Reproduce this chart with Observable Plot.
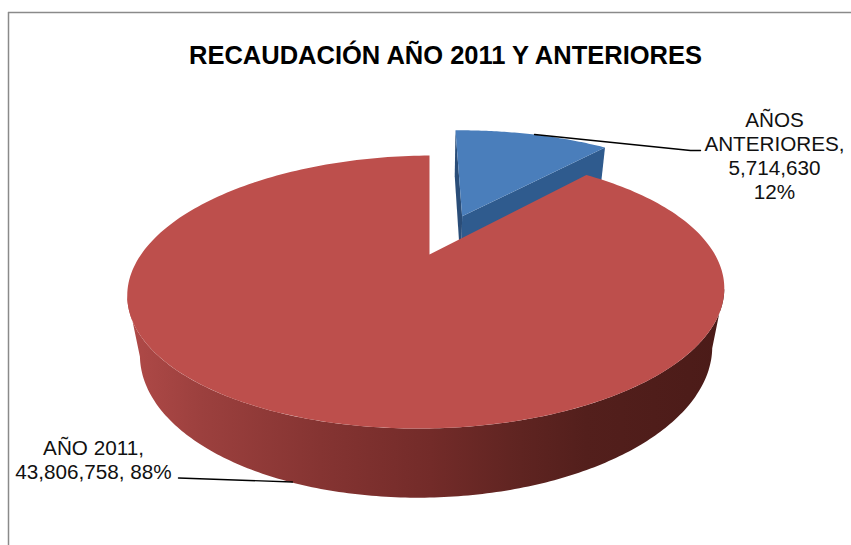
<!DOCTYPE html>
<html><head><meta charset="utf-8">
<script src="https://cdn.jsdelivr.net/npm/d3@7"></script>
<script src="https://cdn.jsdelivr.net/npm/@observablehq/plot@0.6"></script>
<style>html,body{margin:0;padding:0;background:#fff}svg{display:block}</style>
</head><body><div id="chart"></div>
<script>
const titleText = "RECAUDACIÓN AÑO 2011 Y ANTERIORES";
const categories = ["AÑOS ANTERIORES", "AÑO 2011"];
const values = [5714630, 43806758];

const total = d3.sum(values);
const num = d3.format(",");
const pct = d3.format(".0%");
const share = values.map(v => v / total);
const sweep = share[0] * 2 * Math.PI;

// perspective view of a disc: unit-circle plane coordinates -> picture coordinates
const tilt = 0.2747;
function view(X, Y, Z) {
  const w = 1 - tilt * Y + 0.04 * Z + 0.012 * X;
  return [429 + 287 * X / w, (254 + 56.4 * Y + 70 * Z) / w];
}
const rim = (a, s, Z) => view(s.off[0] + s.r * Math.sin(a), s.off[1] - s.r * Math.cos(a), Z);
const explode = 0.35, mid = sweep / 2;
const blueSlice = {off: [explode * Math.sin(mid), -explode * Math.cos(mid)], r: 1.02};
const redSlice = {off: [0, 0], r: 1};
const pts = arr => arr.map(([x, y]) => ({x, y}));
const steps = (a0, a1, n) => d3.range(n + 1).map(i => a0 + (a1 - a0) * i / n);
const apex = (s, Z) => view(s.off[0], s.off[1], Z);

function wedge(a0, a1, s, n) {
  return pts([apex(s, 0), ...steps(a0, a1, n).map(a => rim(a, s, 0))]);
}
function band(a0, a1, s, n) {
  const st = steps(a0, a1, n);
  return pts([...st.map(a => rim(a, s, 0)), ...st.reverse().map(a => rim(a, s, 1))]);
}
function face(a, s) {
  return pts([apex(s, 0), rim(a, s, 0), rim(a, s, 1), apex(s, 1)]);
}

const sideStops = [[127, "#b04a48"], [200, "#9c403e"], [320, "#853432"], [430, "#732b29"],
                   [520, "#5f2421"], [586, "#531f1c"], [722, "#4b1b18"]];
function sideGradient() {
  const defs = d3.create("svg:defs");
  const g = defs.append("linearGradient").attr("id", "redSide")
    .attr("gradientUnits", "userSpaceOnUse")
    .attr("x1", 127).attr("x2", 722).attr("y1", 0).attr("y2", 0);
  sideStops.forEach(([x, c]) => g.append("stop").attr("offset", (x - 127) / 595).attr("stop-color", c));
  return defs.node();
}

const labelRows = [
  {x: 774, y: 126, t: "AÑOS"},
  {x: 774, y: 150, t: "ANTERIORES,"},
  {x: 774, y: 174, t: num(values[0])},
  {x: 774, y: 198, t: pct(share[0])},
  {x: 93, y: 454, t: "AÑO 2011,"},
  {x: 93, y: 478, t: `${num(values[1])}, ${pct(share[1])}`}
];
const poly = (data, fill) => Plot.line(data, {x: "x", y: "y", fill, stroke: "none"});
const edge = Math.asin(tilt);

const chart = Plot.plot({
  width: 851, height: 545, margin: 0,
  x: {domain: [0, 851], range: [0, 851], axis: null},
  y: {domain: [0, 545], range: [0, 545], axis: null},
  style: {background: "#fff"},
  marks: [
    sideGradient,
    Plot.ruleX([8], {y1: 12, y2: 545, stroke: "#8a8a8a", strokeWidth: 1.5}),
    Plot.ruleY([12], {x1: 8, x2: 851, stroke: "#8a8a8a", strokeWidth: 1.5}),
    // blue slice
    poly(face(0, blueSlice), "#2a4d78"),
    poly(face(sweep, blueSlice), "#2f5b8e"),
    poly(wedge(0, sweep, blueSlice, 60), "#4a7ebb"),
    // red slice
    poly(band(Math.PI / 2 + edge, 3 * Math.PI / 2 - edge, redSlice, 200), "url(#redSide)"),
    poly(wedge(sweep, 2 * Math.PI, redSlice, 240), "#bd4f4c"),
    // leaders
    Plot.line(pts([[534, 134], [690, 150], [700, 150]]), {x: "x", y: "y", stroke: "#000", strokeWidth: 1.4}),
    Plot.line(pts([[178, 477.5], [292, 481.5]]), {x: "x", y: "y", stroke: "#000", strokeWidth: 1.4}),
    // text
    Plot.text([titleText], {x: 445, y: 63, text: d => d, lineAnchor: "bottom", textAnchor: "middle",
      fontFamily: "Liberation Sans", fontWeight: "bold", fontSize: 25.5, fill: "#000"}),
    Plot.text(labelRows, {x: "x", y: "y", text: "t", lineAnchor: "bottom", textAnchor: "middle",
      fontFamily: "Liberation Sans", fontSize: 20.7, fill: "#111"})
  ]
});
document.getElementById("chart").append(chart);
</script></body></html>
